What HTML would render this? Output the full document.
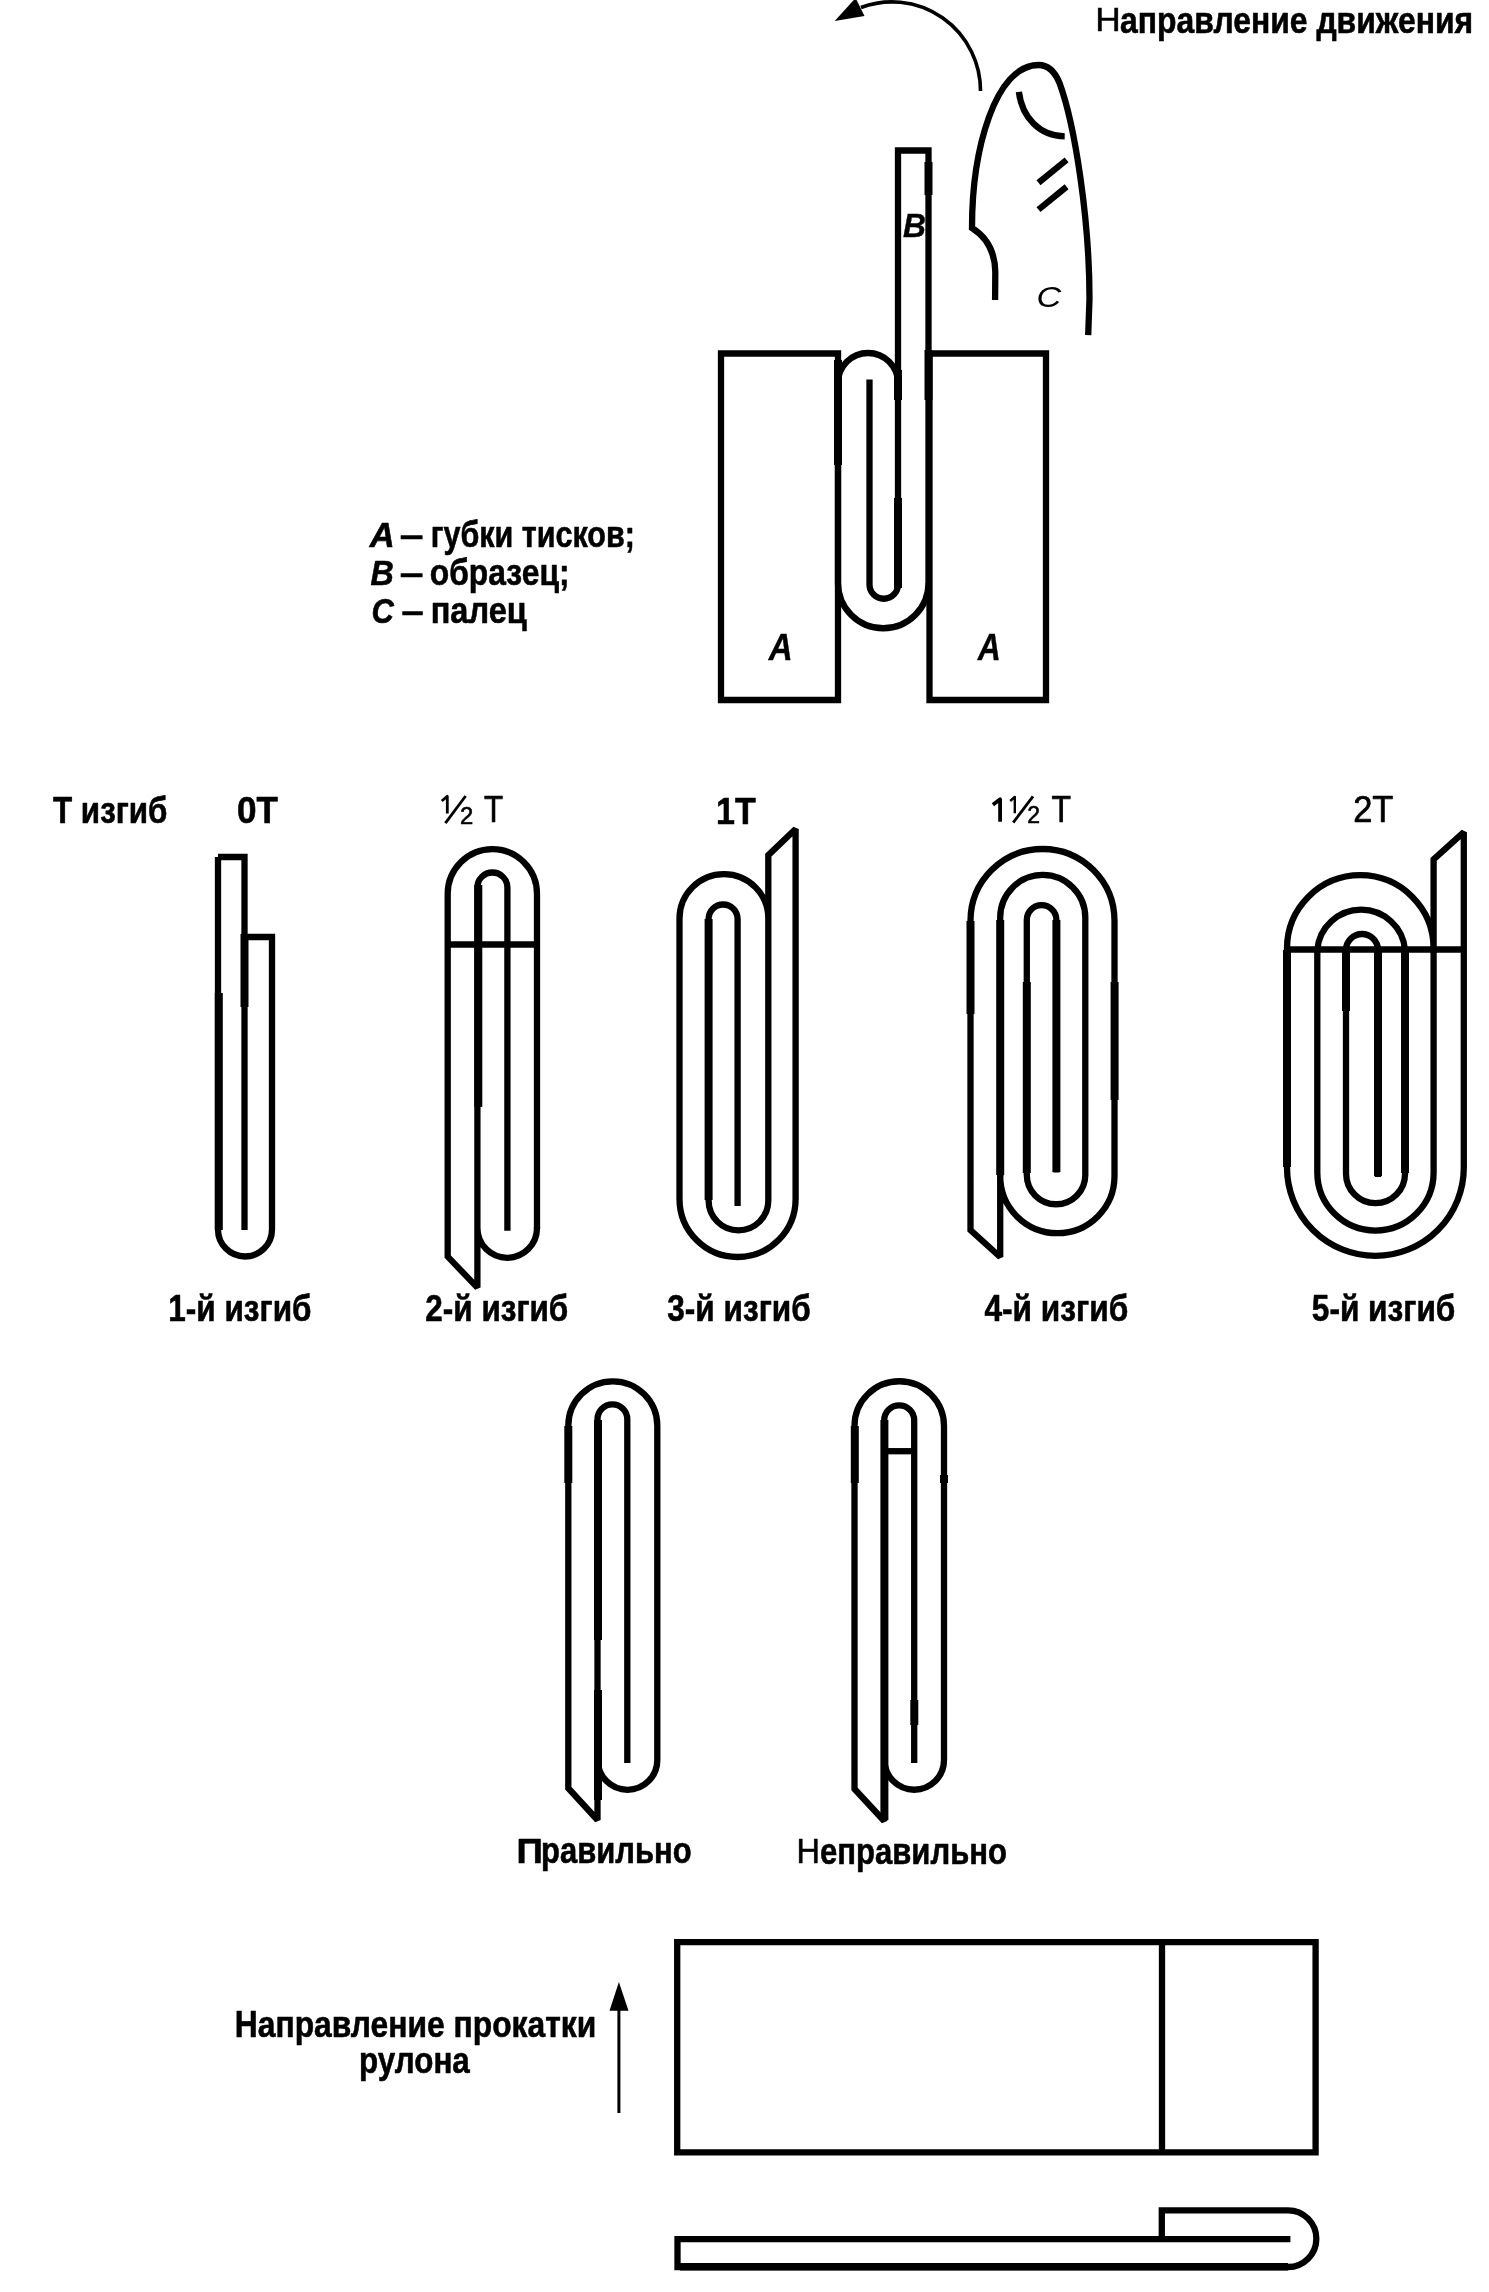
<!DOCTYPE html>
<html><head><meta charset="utf-8"><style>
html,body{margin:0;padding:0;background:#fff;width:1489px;height:2292px;overflow:hidden}
svg{display:block;filter:grayscale(100%)}
text{font-family:"Liberation Sans", sans-serif}
</style></head><body>
<svg width="1489" height="2292" viewBox="0 0 1489 2292">
<g fill="none" stroke="#000" stroke-linejoin="miter" stroke-miterlimit="2" stroke-linecap="butt">
<path d="M980.5,91 A88.5,89 0 0 0 861,7.5" stroke-width="3.6" />
<polygon points="834.7,21 855.6,-2 864.5,16.1" fill="#000" stroke="none"/>
<path d="M995.1,300 L995.3,272 C995,252 988,238 972,228 C972,150 995,65 1038.5,65 C1048,65 1055,72 1059.4,82.7 C1075,125 1089.5,220 1089.5,298.6 L1088.2,335.2" stroke-width="6.3" />
<path d="M1018.9,91.9 C1022,118 1040,136 1064.7,136.4" stroke-width="6.3" />
<path d="M1038.5,182.8 L1066.6,159.9" stroke-width="6.3" />
<path d="M1038.5,209.6 L1066.6,186.7" stroke-width="6.3" />
<path d="M721,353.5 H838 V700 H721 Z" stroke-width="6.3" />
<path d="M929.5,353.5 H1046 V700 H929.5 Z" stroke-width="6.3" />
<path d="M898,585.5 V150.5 H928.5 V583.5" stroke-width="6.3" />
<path d="M838,382.5 V583 A45.25,45.25 0 0 0 928.5,583" stroke-width="6.3" />
<path d="M838,383 A30,30 0 0 1 898,383" stroke-width="6.3" />
<path d="M869.5,379.5 V584.5 A14.25,14.25 0 0 0 898,584.5" stroke-width="6.3" />
<path d="M218,857 H244.5 V1230" stroke-width="6.3" />
<path d="M218,857 V1229.5 A27,27 0 0 0 272,1229.5 V937 H244.5" stroke-width="6.3" />
<path d="M477.4,1228 A29.8,29.8 0 0 0 537,1228 V893.8 A44.65,44.65 0 0 0 447.7,893.8 V1256.6 L477.4,1287.6 V887.5 A14.5,14.5 0 0 1 507.4,887.5 V1230.7" stroke-width="6.3" />
<path d="M537,1228.5 V1227" stroke-width="6.3" />
<path d="M447.7,944.5 H537" stroke-width="6.3" />
<path d="M768.3,919.5 V918.5 A44.4,44.4 0 0 0 679.5,918.5 V1199 A58.05,58.05 0 0 0 795.6,1199 V828.9 L768.3,855.2 V1200.5 A29.5,29.5 0 0 1 708.6,1200.5 V919 A14.5,14.5 0 0 1 737.6,919 V1206" stroke-width="6.3" />
<path d="M1000.2,1176 A57.15,57.15 0 0 0 1114.5,1176 V921 A72,72 0 0 0 970.5,921 V1230 L1000.2,1257 V917.5 A42.4,42.4 0 0 1 1085.3,917.5 V1175 A29.25,29.25 0 0 1 1026.8,1175 V920 A14.8,14.8 0 0 1 1056.4,920 V1172.5" stroke-width="6.3" />
<path d="M1000.2,1176.5 V1175" stroke-width="6.3" />
<path d="M1433.6,949.5 V948.5 A73.3,73.3 0 0 0 1287,948.5 V1167.5 A88.4,88.4 0 0 0 1463.8,1167.5 V832.2 L1433.6,859.4 V1172.5 A58.15,58.15 0 0 1 1317.3,1172.5 V950 A44,44 0 0 1 1405,950 V1173.7 A29.5,29.5 0 0 1 1346,1173.7 V950 A16,16 0 0 1 1378,950 V1177" stroke-width="6.3" />
<path d="M1287,949.5 H1463.8" stroke-width="6.3" />
<path d="M597.7,1760 A29.8,29.8 0 0 0 657.3,1760 V1425.8 A44.5,44.5 0 0 0 568.3,1425.8 V1788.2 L597.5,1820 V1419.3 A14.5,14.5 0 0 1 627.3,1419.3 V1763" stroke-width="6.3" />
<path d="M597.7,1760.5 V1759" stroke-width="6.3" />
<path d="M884.5,1760 A29.75,29.75 0 0 0 944,1760 V1426 A44.75,44.75 0 0 0 854.5,1426 V1789 L884.2,1821 V1420.4 A15,15 0 0 1 914.2,1420.4 V1762.9" stroke-width="6.3" />
<path d="M884.5,1760.5 V1759" stroke-width="6.3" />
<path d="M884.3,1451.2 H914.2" stroke-width="6.3" />
<path d="M677.2,1942.2 H1315.6 V2152.4 H677.2 Z" stroke-width="6.3" />
<path d="M1162,1942.2 V2152.4" stroke-width="6.3" />
<path d="M618.9,2113 V2005" stroke-width="3" />
<polygon points="618.9,1982 609.5,2010.7 628.5,2010.7" fill="#000" stroke="none"/>
<path d="M1290.4,2239.2 H677.5 V2267 H1288 A28.2,28.2 0 0 0 1288,2210.3 H1161.8 V2239.2" stroke-width="6.3" />
<path d="M838,360 V465" stroke-width="8.0" />
<path d="M898,370 V400" stroke-width="8.0" />
<path d="M898,498 V588" stroke-width="8.0" />
<path d="M928.5,162 V195" stroke-width="8.0" />
<path d="M928.5,350 V400" stroke-width="8.0" />
<path d="M218.8,993 V1230" stroke-width="8.0" />
<path d="M244.5,934 V1007" stroke-width="8.0" />
<path d="M478.3,885 V1107" stroke-width="8.0" />
<path d="M708.6,919 V1200" stroke-width="8.0" />
<path d="M970.5,921 V1014" stroke-width="8.0" />
<path d="M1000.2,920 V1175" stroke-width="8.0" />
<path d="M1026.8,982 V1173" stroke-width="8.0" />
<path d="M1056.4,920 V1172" stroke-width="8.0" />
<path d="M1114.6,982 V1100" stroke-width="8.0" />
<path d="M1287,950 V1167" stroke-width="8.0" />
<path d="M1346,950 V1011" stroke-width="8.0" />
<path d="M1378,950 V1176" stroke-width="8.0" />
<path d="M1405,950 V1173" stroke-width="8.0" />
<path d="M568.3,1426 V1483" stroke-width="8.0" />
<path d="M598,1420 V1640" stroke-width="8.0" />
<path d="M598,1690 V1800" stroke-width="8.0" />
<path d="M854.8,1426 V1483" stroke-width="8.0" />
<path d="M884.4,1420 V1820" stroke-width="8.0" />
<path d="M944,1475 V1483" stroke-width="8.0" />
<path d="M914.3,1700 V1725" stroke-width="8.0" />
<path d="M680,2266.8 H1288" stroke-width="7.4" />
<path d="M465.6,796 L445.4,823.2" stroke-width="2.8" />
<path d="M441.8,801 L447.3,796.3 V813.5" stroke-width="2.8" stroke-linejoin="round"/>
<path d="M1033,796.4 L1013.2,822.6" stroke-width="2.8" />
<path d="M992.9,804.8 L1000.1,799.3 V821.8" stroke-width="3.8" stroke-linejoin="round"/>
<path d="M1010.2,801 L1014.8,796.9 V813.2" stroke-width="2.4" stroke-linejoin="round"/>
</g>
<g fill="#000" font-family="Liberation Sans, sans-serif" stroke-linejoin="round">
<text x="1095.2" y="31.0" font-size="34" font-weight="normal" font-style="normal" textLength="25.5" lengthAdjust="spacingAndGlyphs" stroke="#000" stroke-width="0.5">Н</text>
<text x="1120.0" y="33.2" font-size="37" font-weight="bold" font-style="normal" textLength="353.2" lengthAdjust="spacingAndGlyphs" stroke="#000" stroke-width="0.6">аправление движения</text>
<text x="369.8" y="547.0" font-size="35" font-weight="bold" font-style="italic" textLength="24.9" lengthAdjust="spacingAndGlyphs" stroke="#000" stroke-width="0.6">А</text>
<text x="399.7" y="547.0" font-size="35" font-weight="bold" font-style="normal" textLength="23.7" lengthAdjust="spacingAndGlyphs" stroke="#000" stroke-width="0.6">–</text>
<text x="430.7" y="547.0" font-size="37" font-weight="bold" font-style="normal" textLength="204.2" lengthAdjust="spacingAndGlyphs" stroke="#000" stroke-width="0.6">губки тисков;</text>
<text x="370.6" y="585.1" font-size="35" font-weight="bold" font-style="italic" textLength="23.3" lengthAdjust="spacingAndGlyphs" stroke="#000" stroke-width="0.6">В</text>
<text x="399.7" y="585.1" font-size="35" font-weight="bold" font-style="normal" textLength="23.7" lengthAdjust="spacingAndGlyphs" stroke="#000" stroke-width="0.6">–</text>
<text x="429.8" y="585.1" font-size="37" font-weight="bold" font-style="normal" textLength="139.8" lengthAdjust="spacingAndGlyphs" stroke="#000" stroke-width="0.6">образец;</text>
<text x="371.5" y="623.2" font-size="35" font-weight="bold" font-style="italic" textLength="22.3" lengthAdjust="spacingAndGlyphs" stroke="#000" stroke-width="0.6">С</text>
<text x="401.6" y="623.2" font-size="35" font-weight="bold" font-style="normal" textLength="22.1" lengthAdjust="spacingAndGlyphs" stroke="#000" stroke-width="0.6">–</text>
<text x="430.7" y="623.2" font-size="37" font-weight="bold" font-style="normal" textLength="96.0" lengthAdjust="spacingAndGlyphs" stroke="#000" stroke-width="0.6">палец</text>
<text x="903.0" y="236.9" font-size="34" font-weight="bold" font-style="italic" textLength="22.9" lengthAdjust="spacingAndGlyphs" stroke="#000" stroke-width="0.4">В</text>
<text x="1036.5" y="307.2" font-size="30" font-weight="normal" font-style="italic" textLength="24.7" lengthAdjust="spacingAndGlyphs">С</text>
<text x="768.7" y="659.7" font-size="36" font-weight="bold" font-style="italic" textLength="23.9" lengthAdjust="spacingAndGlyphs" stroke="#000" stroke-width="0.4">А</text>
<text x="977.8" y="659.7" font-size="36" font-weight="bold" font-style="italic" textLength="23.0" lengthAdjust="spacingAndGlyphs" stroke="#000" stroke-width="0.4">А</text>
<text x="53.0" y="823.2" font-size="37" font-weight="bold" font-style="normal" textLength="114.4" lengthAdjust="spacingAndGlyphs" stroke="#000" stroke-width="0.6">Т изгиб</text>
<text x="237.0" y="822.8" font-size="36" font-weight="bold" font-style="normal" textLength="40.9" lengthAdjust="spacingAndGlyphs" stroke="#000" stroke-width="0.6">0Т</text>
<text x="459.9" y="823.6" font-size="24" font-weight="normal" font-style="normal" textLength="13.3" lengthAdjust="spacingAndGlyphs" stroke="#000" stroke-width="0.6">2</text>
<text x="483.9" y="822.3" font-size="37" font-weight="normal" font-style="normal" textLength="19.1" lengthAdjust="spacingAndGlyphs" stroke="#000" stroke-width="0.7">Т</text>
<text x="716.0" y="823.5" font-size="36" font-weight="bold" font-style="normal" textLength="39.7" lengthAdjust="spacingAndGlyphs" stroke="#000" stroke-width="0.6">1Т</text>
<text x="1027.3" y="823.2" font-size="24" font-weight="normal" font-style="normal" textLength="12.8" lengthAdjust="spacingAndGlyphs" stroke="#000" stroke-width="0.6">2</text>
<text x="1051.5" y="821.7" font-size="37" font-weight="normal" font-style="normal" textLength="19.5" lengthAdjust="spacingAndGlyphs" stroke="#000" stroke-width="0.7">Т</text>
<text x="1353.2" y="821.8" font-size="37" font-weight="normal" font-style="normal" textLength="40.2" lengthAdjust="spacingAndGlyphs" stroke="#000" stroke-width="0.7">2Т</text>
<text x="168.3" y="1321.4" font-size="37" font-weight="bold" font-style="normal" textLength="143.2" lengthAdjust="spacingAndGlyphs" stroke="#000" stroke-width="0.6">1-й изгиб</text>
<text x="425.3" y="1321.4" font-size="37" font-weight="bold" font-style="normal" textLength="143.0" lengthAdjust="spacingAndGlyphs" stroke="#000" stroke-width="0.6">2-й изгиб</text>
<text x="667.3" y="1321.4" font-size="37" font-weight="bold" font-style="normal" textLength="143.4" lengthAdjust="spacingAndGlyphs" stroke="#000" stroke-width="0.6">3-й изгиб</text>
<text x="984.4" y="1321.4" font-size="37" font-weight="bold" font-style="normal" textLength="143.8" lengthAdjust="spacingAndGlyphs" stroke="#000" stroke-width="0.6">4-й изгиб</text>
<text x="1311.8" y="1321.4" font-size="37" font-weight="bold" font-style="normal" textLength="143.6" lengthAdjust="spacingAndGlyphs" stroke="#000" stroke-width="0.6">5-й изгиб</text>
<text x="516.4" y="1863.2" font-size="35" font-weight="bold" font-style="normal" textLength="26.3" lengthAdjust="spacingAndGlyphs" stroke="#000" stroke-width="0.6">П</text>
<text x="541.0" y="1863.2" font-size="37" font-weight="bold" font-style="normal" textLength="150.6" lengthAdjust="spacingAndGlyphs" stroke="#000" stroke-width="0.6">равильно</text>
<text x="796.5" y="1862.9" font-size="35" font-weight="normal" font-style="normal" textLength="23.4" lengthAdjust="spacingAndGlyphs" stroke="#000" stroke-width="0.6">Н</text>
<text x="820.0" y="1863.6" font-size="37" font-weight="bold" font-style="normal" textLength="187.0" lengthAdjust="spacingAndGlyphs" stroke="#000" stroke-width="0.6">еправильно</text>
<text x="234.8" y="2037.0" font-size="37" font-weight="bold" font-style="normal" textLength="361.4" lengthAdjust="spacingAndGlyphs" stroke="#000" stroke-width="0.6">Направление прокатки</text>
<text x="359.0" y="2073.4" font-size="37" font-weight="bold" font-style="normal" textLength="110.8" lengthAdjust="spacingAndGlyphs" stroke="#000" stroke-width="0.6">рулона</text>
</g>
</svg>
</body></html>
